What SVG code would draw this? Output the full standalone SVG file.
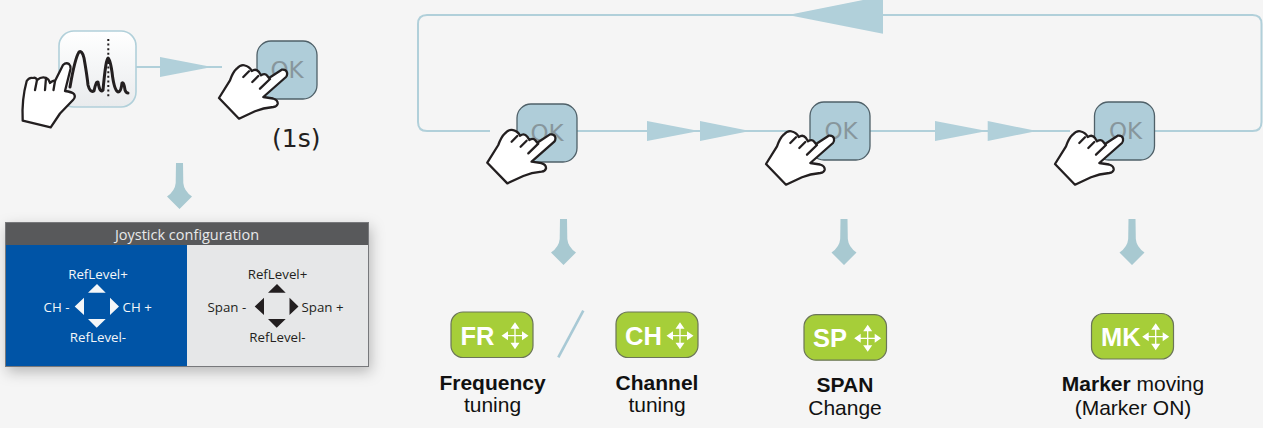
<svg xmlns="http://www.w3.org/2000/svg" width="1263" height="428" viewBox="0 0 1263 428">
<style>
.line{fill:none;stroke:#b1d0da;stroke-width:2}
.head{fill:#b1d0da}
.down{fill:#a8c9d1}
.ok{fill:#afcdd9;stroke:#4f6068;stroke-width:1.3}
.oktx{font:23px "DejaVu Sans",sans-serif;fill:#87969c;text-anchor:middle}
.hand{fill:#fff;stroke:#231f20;stroke-width:2.3;stroke-linejoin:round;stroke-linecap:round}
.badge{fill:#a6ce39;stroke:#6b7558;stroke-width:1.2}
.btx{font:bold 25.5px "Liberation Sans",Arial,sans-serif;fill:#fff}
.lab{font:21px "Liberation Sans",Arial,sans-serif;fill:#111;text-anchor:middle}
.b{font-weight:bold}
.j{font:13.3px "Open Sans",sans-serif}
.w{fill:#f4f6f8}
.k{fill:#231f20}
.m{text-anchor:middle}
.crossl{stroke:#fff;stroke-width:1.3;fill:none}
</style>
<defs>
<linearGradient id="g" x1="0" y1="0" x2="0" y2="1"><stop offset="0" stop-color="#fff"/><stop offset="1" stop-color="#e9ebed"/></linearGradient>
<filter id="sh" x="-8%" y="-15%" width="116%" height="135%"><feDropShadow dx="2" dy="5" stdDeviation="7" flood-color="#000" flood-opacity=".25"/></filter>
<g id="hand" class="hand">
<path d="M0 0 L11 -17.7 Q14 -26 17.7 -29.3 Q22 -34 26 -32.5 Q31 -31 32.7 -27 Q37 -30 40 -26 L42 -22.7 Q46 -25 48 -22.5 L50 -20 L62.7 -28.3 Q67 -29 68 -25.5 Q68.5 -22.5 67 -21 L44.3 -1 L54 0.5 Q59 2 58.7 5.7 Q58 8.5 54.3 9 Q44 10 36 13.3 L20 20.7 Z"/>
<path d="M24.3 -21 L30 -26.7 M33.3 -16 L39.3 -22 M41 -9.3 L51 -19" fill="none"/>
</g>
<g id="cross">
<path class="crossl" d="M-10 0H10M0 -10V10"/>
<path fill="#fff" d="M-13.5 0 L-7 -4.5 V4.500Z M13.5 0 L7 -4.5 V4.500Z M0 -13.5 L-4.5 -7 H4.500Z M0 13.5 L-4.5 7 H4.500Z"/>
</g>
<path id="darrow" class="down" d="M-3.5 0 H3.5 L3.8 20 Q4.500 28 12.500 33.500 L0 46 L-12.500 33.500 Q-4.500 28 -3.800 20 Z"/>
</defs>
<rect width="1263" height="428" fill="#f5f5f5"/>
<g id="connectors">
<path class="line" d="M136 67H222"/>
<path class="head" d="M160 57V77L212 67Z"/>
<path class="line" d="M490 131H427Q418 131 418 122V24Q418 15 427 15H1252.500Q1261.500 15 1261.500 24V122Q1261.500 131 1252.500 131H1100"/>
<path class="line" d="M570 131H790M860 131H1070"/>
<path class="head" d="M883 -4V33.700L788 15Z"/>
<path class="head" d="M647 121V141L699 131Z M700 121V141L750 131Z M935 121V141L987 131Z M987.700 121V141L1037 131Z"/>
<path d="M583.300 310.700L558.300 357.300" stroke="#a8c9d5" stroke-width="2.6" fill="none"/>
<use href="#darrow" x="179.500" y="163"/>
<use href="#darrow" x="563.500" y="219"/>
<use href="#darrow" x="844" y="219"/>
<use href="#darrow" x="1132" y="219"/>
</g>
<g id="spectrum-button">
<rect x="59" y="31" width="77" height="76" rx="15" fill="url(#g)" stroke="#b1d0da" stroke-width="1.6"/>
<path d="M108.300 39V97" stroke="#231f20" stroke-width="2" stroke-dasharray="2 2.6" fill="none"/>
<path d="M70 87Q75 58 79 52Q82 50 84 58Q87 75 88 85Q90 93 94 91Q96 81 98 82Q100 94 103 90Q106 58 108 58Q110 58 112 72Q114 90 118 92Q121 92 122 83Q124 82 125 90Q126 93 128 93" fill="none" stroke="#231f20" stroke-width="3" stroke-linecap="round" stroke-linejoin="round"/>
<g class="hand">
<path d="M22.700 120.700 Q21.500 100 26.700 81 Q29 77 33 78 Q36 77 37 80 Q42 76 46 78 Q49 79 50 83 Q53 80 55 81 L63 65 Q66 62 69 64 Q71 66 70.500 69 L65 91 Q72 92 74 94 Q76 97 73 100 L60 113.500 L50.700 127.300 Z"/>
<path d="M37 80 L35 90 M46 78 L45 90 M55 81 L53.500 90" fill="none"/>
</g>
</g>
<g id="ok-left">
<rect class="ok" x="257" y="41" width="60" height="58" rx="14"/>
<text class="oktx" x="287" y="78">OK</text>
<use href="#hand" x="219" y="98"/>
</g>
<text x="272" y="147" font-family="DejaVu Sans,sans-serif" font-size="25" fill="#231f20">(1s)</text>
<g id="joystick">
<rect x="5" y="222" width="364" height="145" fill="#e6e7e8" filter="url(#sh)"/>
<rect x="5" y="245" width="182" height="122" fill="#0054a6"/>
<rect x="5" y="222" width="364" height="23" fill="#58595b"/>
<rect x="5.500" y="222.500" width="363" height="144" fill="none" stroke="#77787b"/>
<text x="187" y="240" class="j m" style="font-size:14.500px" fill="#e8e9ea">Joystick configuration</text>
<g class="j w">
<text x="98" y="279" class="m">RefLevel+</text>
<text x="43.500" y="312">CH -</text>
<text x="122.500" y="312">CH +</text>
<text x="98" y="342" class="m">RefLevel-</text>
<path d="M88 292.700H105.700L97 284Z M84 297.700V315L74.700 306.500Z M110 297.700V315L119 306.500Z M88 319H105.700L96.700 327.700Z"/>
</g>
<g class="j k">
<text x="277.500" y="279" class="m">RefLevel+</text>
<text x="207.500" y="312">Span -</text>
<text x="301.500" y="312">Span +</text>
<text x="277.500" y="342" class="m">RefLevel-</text>
<path d="M268 292.700H285.700L277 284Z M264 297.700V315L254.700 306.500Z M289.500 297.700V315L298.500 306.500Z M268 319H285.700L276.700 327.700Z"/>
</g>
</g>
<g id="ok-1">
<rect class="ok" x="517" y="104" width="60" height="58" rx="14"/>
<text class="oktx" x="547" y="141">OK</text>
<use href="#hand" x="487.300" y="162.700"/>
</g>
<g id="ok-2">
<rect class="ok" x="810" y="102" width="60" height="58" rx="14"/>
<text class="oktx" x="841" y="139">OK</text>
<use href="#hand" x="766" y="164"/>
</g>
<g id="ok-3">
<rect class="ok" x="1094.500" y="102" width="60" height="58" rx="14"/>
<text class="oktx" x="1125.500" y="139">OK</text>
<use href="#hand" x="1055" y="164"/>
</g>
<g id="badge-fr">
<rect class="badge" x="451" y="312" width="82" height="45.500" rx="12"/>
<text class="btx" x="460.500" y="345">FR</text>
<use href="#cross" x="515" y="335.700"/>
</g>
<g id="badge-ch">
<rect class="badge" x="616" y="312" width="82" height="45.500" rx="12"/>
<text class="btx" x="625" y="345">CH</text>
<use href="#cross" x="680" y="335.700"/>
</g>
<g id="badge-sp">
<rect class="badge" x="804" y="314.700" width="82.500" height="45.500" rx="12"/>
<text class="btx" x="813" y="347">SP</text>
<use href="#cross" x="867.700" y="338.300"/>
</g>
<g id="badge-mk">
<rect class="badge" x="1091.500" y="313.500" width="82" height="45.500" rx="12"/>
<text class="btx" x="1101" y="345.700">MK</text>
<use href="#cross" x="1155.700" y="336.700"/>
</g>
<g id="labels">
<text class="lab b" x="492.500" y="390">Frequency</text>
<text class="lab" x="492.500" y="412">tuning</text>
<text class="lab b" x="657" y="390">Channel</text>
<text class="lab" x="657" y="412">tuning</text>
<text class="lab b" x="845" y="391.500">SPAN</text>
<text class="lab" x="845" y="415">Change</text>
<text class="lab" x="1133" y="391"><tspan class="b">Marker</tspan> moving</text>
<text class="lab" x="1133" y="415">(Marker ON)</text>
</g>
</svg>
